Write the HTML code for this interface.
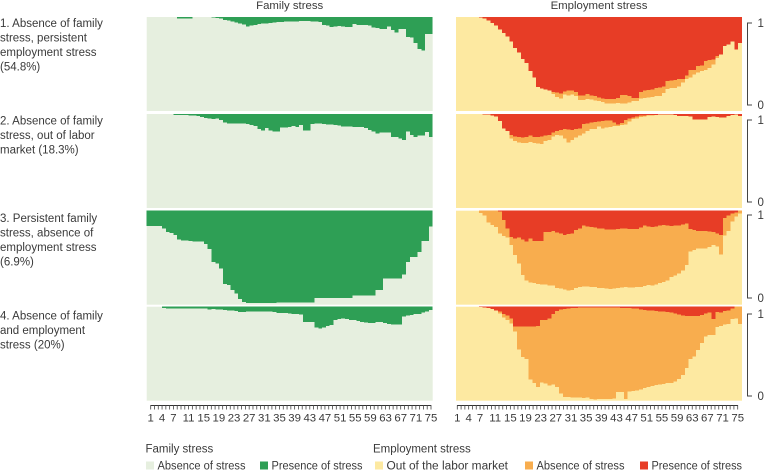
<!DOCTYPE html>
<html lang="en">
<head>
<meta charset="utf-8">
<title>Family and employment stress sequences</title>
<style>
html,body{margin:0;padding:0;background:#fff;}
svg{display:block;}
text{font-family:"Liberation Sans",sans-serif;fill:#3a3a3a;}
</style>
</head>
<body>
<svg id="chart" xmlns="http://www.w3.org/2000/svg" width="764" height="470" viewBox="0 0 764 470"></svg>
<script>
// Percent of people in each state at each sequence position (1..75).
const ageTicks = [1,4,7,11,15,19,23,27,31,35,39,43,47,51,55,59,63,67,71,75];
const columnTitles = ["Family stress","Employment stress"];
const rowLabels = [
  ["1. Absence of family","stress, persistent","employment stress","(54.8%)"],
  ["2. Absence of family","stress, out of labor","market (18.3%)"],
  ["3. Persistent family","stress, absence of","employment stress","(6.9%)"],
  ["4. Absence of family","and employment","stress (20%)"]
];

const familyPresence1 = [0,0,0,0,0,0,0,0,1.5,1.5,1.5,1.5,0,0,0,0,0,.5,1,1.5,3,3.5,5,6,7,8,10,9,8.5,7.5,7,7,6.5,6,5.5,5.5,5,5,5,5,4.5,4.5,4.5,5,5,5.5,8.5,9,10.5,10,9.5,10,10.5,10.5,7.5,8.5,8.5,8.5,9,11,11.5,12.5,12.5,10,14,16.5,12.5,12.5,21.5,22,27.5,34,35.5,18,18];
const familyPresence2 = [0,0,0,0,0,0,0,1,1,1,1,1.5,1.5,2,3,4.5,5,5.5,5,6.5,9,10,10,10,10,10,10.5,11.5,12.5,16,17.5,15,17.5,18.5,18.5,14.5,14.5,14,13,14,11.5,17.5,17.5,10.5,10,10,10.5,11,11,11.5,12,13.5,13.5,13.5,14,14,14,15,17,18.5,21,19.5,19.5,19.5,24.5,24.5,26,27.5,18.5,22.5,24.5,23,23,19,24.5];
const familyPresence3 = [16.5,16.5,16.5,16.5,19,22.5,23.5,26,30.5,31.5,31.5,32,32.5,33,33,35.5,41,54.5,56,61.5,78,79,84.5,88,94,97,98,98,98,98,98,98,98,98,97.5,97.5,97.5,97.5,97.5,97.5,97.5,97.5,97.5,97.5,93,93,93,93,93,93,93,93,93,93,90,90,90,90,90,90,84.5,84.5,72,72,72,72,72,68,54.5,49,49,44,32,32,17];
const familyPresence4 = [0,0,0,0,1.5,2,2,2,2,2,2,2,2,2,2,2,3,2.5,3,3,3.5,4,4,4.5,5.5,5.5,5,5,5,5,5,5,5,5.5,6.5,6.5,6.5,7,7.5,8,8.5,16.5,16.5,16.5,22,23,22,20.5,19.5,14,13,12.5,13,14,14,15,16.5,17,17.5,17.5,16.5,16.5,17.5,18.5,19,19,19,10.5,9.5,9,8,8,6,5,3.5];

const employmentPresence1 = [0,0,0,0,0,0,.5,1.8,3.5,6.4,9,13.4,17,20.5,26,33,37.5,44.5,49,57.6,64.6,74.6,76,77,78,80,80.5,81.6,79,78,78,80,83.4,83.4,82,83.4,84,85.5,86.6,87,87,87,86,83,83,84,86,86.2,80,78.4,77.7,77,75.6,75,74,68,67.5,66.8,65.7,65.7,62,56.5,56.5,52,51.6,47,46,45,41.7,40,31,29.3,25.8,34.6,27.6];
const employmentAbsence1 = [0,0,0,0,0,0,0,0,0,0,0,0,0,0,0,0,0,0,0,0,0,0,0,0,0,1.8,4.6,5,3.5,5.3,4.6,4.2,5,5,5.3,4.2,4.6,3.9,3.9,5,5,5,5.3,8.8,8.8,7,3.5,3.2,6.7,8,8,8,8.5,8.8,7,8.8,7.8,8.5,8.5,4.2,4.2,8,4.6,7,6,9.5,8,5.3,1.8,0,0,0,0,0,0];

const employmentPresence2 = [0,0,0,0,0,0,0,.7,.7,1.4,2.5,7.4,15.2,18,22.3,24,24.7,25,24.7,23,24.7,24.4,24,23,22.3,19.8,18,17,16,16.6,17,16,15.2,10.6,10,9,8.5,8,7.4,6.7,7,8.8,11,9.5,6.4,4.6,3.5,2.8,1.8,1.4,1,1,1,.7,.4,.4,.4,1,2,2,2,2.8,5.6,6,5.6,6,3.2,2.5,3.2,3.9,3.9,2,1,.7,2];
const employmentAbsence2 = [0,0,0,0,0,0,0,0,0,0,0,0,0,0,3.5,4.6,5.6,6,6.4,7,6,7,8,5.6,5.3,4.2,4.2,6,9.9,13.8,10.6,9.2,7.8,9.9,8,7,7.4,5.3,7.8,7.8,6.7,4.2,2,2,4.6,3.5,1.8,1.8,1.4,1,.7,.4,0,0,0,0,0,0,0,0,0,0,0,0,0,0,0,0,0,0,0,0,0,0,0];

const employmentPresence3 = [0,0,0,0,0,0,0,0,0,0,0,1,10,19,27.8,29.5,28.5,30.6,33,29.5,32,32,32,22.4,22.4,21.7,23,24,26,25,24,20.6,19,16,16.7,17.4,18,19,19,20,20,20,19.6,19,19,19.6,19.6,19.6,18,16,16.7,17.4,17,16,15,16,16.4,16,16,14.6,13.5,19.6,20.6,21.4,21.7,21.7,22,22.4,24,26,8,5.3,2.8,1.8,0];
const employmentAbsence3 = [0,0,0,0,0,0,2.5,5.3,12.5,15.3,17.4,23,17,9.6,8.9,17.8,27.8,38,41,47,45,46,46.3,56,57,58,59,59,57.6,60,60.5,61.6,62,64.4,64,64,63,63,63,63,63.4,63,62.6,62.6,62,62,62,61.6,63,64,62.6,62,61.5,61,61,58,54,52.7,51,49,44.5,24,21.4,19,18.5,18.5,16.4,14,14,20.6,18.5,16.4,8.9,4.6,2.8];

const employmentPresence4 = [0,0,0,0,0,0,.4,.7,1.4,2.5,3.9,5.3,7.8,9.2,12.4,21,21,21,21,21,21,20.5,14,14,12.7,7.8,4.6,2.8,2.5,1.8,1.4,1.4,1,.7,.7,.7,.7,.7,.7,1,1,1,1,1.4,1.4,1.4,1.8,2,2.8,3.5,4.2,4.2,4.6,4.9,5.3,5.6,6.4,7.4,8.5,9.5,9.9,9.9,9.9,9.9,8.8,7,6.4,13,5.6,6,4.6,4.2,2,0,0];
const employmentAbsence4 = [0,0,0,0,0,0,0,0,0,0,.4,1.8,3.5,5,5.3,5.3,24.7,32.5,34.6,56.5,60,65,66.4,67.8,71,75.2,81,89.8,93.6,94.4,95.4,95,95.4,96.5,96,97.5,98,97.5,97.5,97,97,96.5,90,89.4,97,89,88,87,85.5,83,81,80,78.8,77.7,76.7,75.6,75,72,68.5,63,55.5,46,43,36,30,24.7,23.7,16.9,16,14.5,14.5,14,11.3,12.4,18.4];

const familySeries = [familyPresence1,familyPresence2,familyPresence3,familyPresence4];
const presenceSeries = [employmentPresence1,employmentPresence2,employmentPresence3,employmentPresence4];
const absenceSeries = [employmentAbsence1,employmentAbsence2,employmentAbsence3,employmentAbsence4];

const COLORS = {paleGreen:"#e6efdf",green:"#2e9f55",yellow:"#fde9a1",orange:"#f8ad4e",red:"#e73d26"};
const NS = "http://www.w3.org/2000/svg";
const svg = document.getElementById("chart");
const PANEL_W = 286, PANEL_H = 94, N = 75;
const panelLeft = [146.7,456];
const rowTop = [17,114,210.7,306.7];
const bracketTop = [23,120,215,314];
const bracketBottom = [105,202,298,396];
const tickLeft = [150.7,457.3], tickRight = [431,737.7];

function make(tag, attrs, text){
  const el = document.createElementNS(NS, tag);
  for (const k in attrs) el.setAttribute(k, attrs[k]);
  if (text !== undefined) el.textContent = text;
  svg.appendChild(el);
  return el;
}
// Axis functions
function xPos(col, panel){ return panelLeft[panel] + col * PANEL_W / N; }
function yPos(pct, row){ return rowTop[row] + pct / 100 * PANEL_H; }
function tickX(pos, panel){ return tickLeft[panel] + (pos - 1) * (tickRight[panel] - tickLeft[panel]) / (N - 1); }

function columnRect(col, panel, row, fromPct, toPct, fill){
  if (toPct <= fromPct) return null;
  const x0 = xPos(col, panel), x1 = xPos(col + 1, panel);
  const y0 = yPos(fromPct, row), y1 = yPos(toPct, row);
  return make("rect", {x:x0, y:y0, width:x1 - x0, height:y1 - y0, fill:fill, "shape-rendering":"crispEdges"});
}

// Column titles
columnTitles.forEach(function(t, p){
  const el = make("text", {x:panelLeft[p] + PANEL_W / 2, y:9, "text-anchor":"middle", "font-size":11.4}, t);
  
  
});

// Row labels
const labelBase = [27,124.5,222,319.5];
rowLabels.forEach(function(lines, r){
  lines.forEach(function(line, i){
    const el = make("text", {x:0, y:labelBase[r] + i * 14.5, "font-size":11.5}, line);
    
    
  });
});

// Panels
for (let r = 0; r < 4; r++) {
  const bgL = make("rect", {x:panelLeft[0], y:rowTop[r], width:PANEL_W, height:PANEL_H, fill:COLORS.paleGreen});
  
  
  const bgR = make("rect", {x:panelLeft[1], y:rowTop[r], width:PANEL_W, height:PANEL_H, fill:COLORS.yellow});
  
  
  for (let c = 0; c < N; c++) {
    const g = columnRect(c, 0, r, 0, familySeries[r][c], COLORS.green);
    if (g) {
      
      
    }
    const red = presenceSeries[r][c], orange = absenceSeries[r][c];
    const o = columnRect(c, 1, r, red, red + orange, COLORS.orange);
    if (o) {
      
      
    }
    const d = columnRect(c, 1, r, 0, red, COLORS.red);
    if (d) {
      
      
    }
  }
  // y-axis bracket
  const b = make("path", {d:"M752 " + bracketTop[r] + "H747.5V" + bracketBottom[r] + "H752", fill:"none", stroke:"#444", "stroke-width":1});
  
  
  const one = make("text", {x:757.5, y:bracketTop[r] + 4, "font-size":11.5}, "1");
  
  
  const zero = make("text", {x:757.5, y:bracketBottom[r] + 4, "font-size":11.5}, "0");
  
  
}

// X axes
for (let p = 0; p < 2; p++) {
  const line = make("line", {x1:tickX(1,p), x2:tickX(N,p), y1:405.5, y2:405.5, stroke:"#333", "stroke-width":1});
  
  
  for (let i = 1; i <= N; i++) {
    const t = make("line", {x1:tickX(i,p), x2:tickX(i,p), y1:405, y2:409.5, stroke:"#444", "stroke-width":0.8});
    
    
  }
  ageTicks.forEach(function(a){
    const l = make("text", {x:tickX(a,p), y:421.5, "text-anchor":"middle", "font-size":11.4}, String(a));
    
    
  });
}

// Legend
const legendTitles = [["Family stress",145.5],["Employment stress",373]];
legendTitles.forEach(function(t){
  const el = make("text", {x:t[1], y:452.5, "font-size":11.5}, t[0]);
  
  
});
const legendLabels = ["Absence of stress","Presence of stress","Out of the labor market","Absence of stress","Presence of stress"];
const legendColors = [COLORS.paleGreen,COLORS.green,COLORS.yellow,COLORS.orange,COLORS.red];
const legendX = [146,260,375,525,640];
const legendTextWidths = [88,91,121.5,88,90.5];
legendLabels.forEach(function(lab, i){
  const s = make("rect", {x:legendX[i], y:461.5, width:8, height:8, fill:legendColors[i]});
  
  
  const l = make("text", {x:legendX[i] + 11.5, y:469.5, "font-size":11.5, textLength:legendTextWidths[i], lengthAdjust:"spacingAndGlyphs"}, lab);
  
  
});
</script>
</body>
</html>
